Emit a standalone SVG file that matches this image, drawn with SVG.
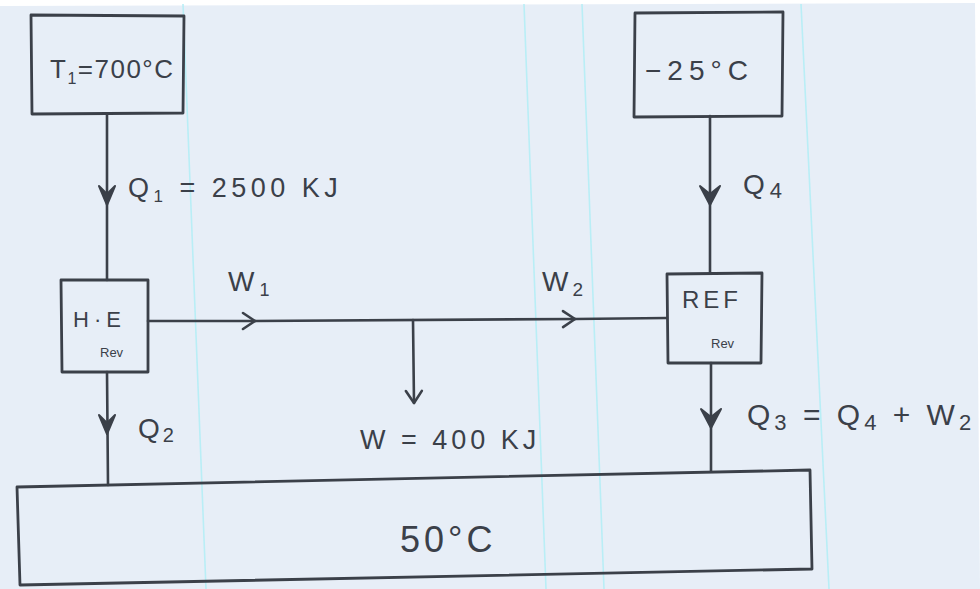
<svg xmlns="http://www.w3.org/2000/svg" width="980" height="589" viewBox="0 0 980 589">
<style>
.ink{fill:none;stroke:#3b4049;stroke-width:2.6;stroke-linecap:round;stroke-linejoin:round}
.box{fill:none;stroke:#3b4049;stroke-width:2.8;stroke-linejoin:round}
.head{fill:#3b4049;stroke:#3b4049;stroke-width:2;stroke-linejoin:round}
.t{font-family:"Liberation Sans","DejaVu Sans",sans-serif;fill:#3b4049}
.rule{stroke:#b9eef6;stroke-width:1.6}
</style>
<defs>
<marker id="chev" viewBox="0 0 20 20" refX="16" refY="10" markerWidth="20" markerHeight="20" markerUnits="userSpaceOnUse" orient="auto">
<path d="M4,2 L16,10 L4,18" fill="none" stroke="#3b4049" stroke-width="2.6" stroke-linecap="round" stroke-linejoin="round"/>
</marker>
</defs>
<rect width="980" height="589" fill="#ffffff"/>
<polygon points="0,6 975,3 980,589 0,589" fill="#e7eef7"/>
<g id="rules">
<line class="rule" x1="183" y1="4" x2="206" y2="589"/>
<line class="rule" x1="524" y1="4" x2="546" y2="589"/>
<line class="rule" x1="582" y1="4" x2="604" y2="589"/>
<line class="rule" x1="801" y1="4" x2="829" y2="589"/>
</g>

<g id="connectors">
<line class="ink" x1="107" y1="114" x2="107" y2="280"/>
<path class="head" d="M99,186 L107,205 L115,186 L107,194 Z"/>
<line class="ink" x1="107" y1="372" x2="108" y2="485"/>
<path class="head" d="M99,415 L107,434 L115,415 L107,423 Z"/>
<line class="ink" x1="710" y1="116" x2="710" y2="273"/>
<path class="head" d="M700,186 L710,205 L720,186 L710,194 Z"/>
<line class="ink" x1="711" y1="363" x2="711" y2="471"/>
<path class="head" d="M701,409 L711,428 L721,409 L711,417 Z"/>
<line class="ink" x1="148" y1="321" x2="255" y2="321" marker-end="url(#chev)"/>
<line class="ink" x1="255" y1="321" x2="575" y2="319" marker-end="url(#chev)"/>
<line class="ink" x1="575" y1="319" x2="667" y2="318"/>
<line class="ink" x1="413" y1="320" x2="414" y2="403" marker-end="url(#chev)"/>
</g>

<g id="hot">
<polygon class="box" points="31,15 184,16 183,113 32,114"/>
<text class="t" x="50" y="78" font-size="26" letter-spacing="1.5">T<tspan font-size="16" dy="6">1</tspan><tspan dy="-6">=700°C</tspan></text>
</g>

<g id="cold">
<polygon class="box" points="635,13 783,12 782,116 634,117"/>
<text class="t" x="645" y="80" font-size="28" letter-spacing="6">−25°C</text>
</g>

<g id="he">
<polygon class="box" points="61,280 148,280 148,372 62,372"/>
<text class="t" x="73" y="327" font-size="22" letter-spacing="5">H·E</text>
<text class="t" x="100" y="357" font-size="13">Rev</text>
</g>

<g id="ref">
<polygon class="box" points="667,274 762,273 761,363 668,363"/>
<text class="t" x="682" y="308" font-size="24" letter-spacing="4">REF</text>
<text class="t" x="711" y="348" font-size="13">Rev</text>
</g>

<g id="sink">
<polygon class="box" points="17,487 810,470 812,569 20,585"/>
<text class="t" x="400" y="552" font-size="36" letter-spacing="4">50°C</text>
</g>

<g id="labels">
<text class="t" x="128" y="197" font-size="27" letter-spacing="4.5">Q<tspan font-size="17" dy="5">1</tspan><tspan dy="-5"> = 2500 KJ</tspan></text>
<text class="t" x="743" y="194" font-size="28" letter-spacing="5">Q<tspan font-size="22" dy="4">4</tspan></text>
<text class="t" x="228" y="291" font-size="28" letter-spacing="5">W<tspan font-size="18" dy="5">1</tspan></text>
<text class="t" x="542" y="291" font-size="28" letter-spacing="4">W<tspan font-size="19" dy="5">2</tspan></text>
<text class="t" x="360" y="449" font-size="27" letter-spacing="4">W = 400 KJ</text>
<text class="t" x="138" y="438" font-size="28" letter-spacing="3">Q<tspan font-size="20" dy="4">2</tspan></text>
<text class="t" x="747" y="425" font-size="30" letter-spacing="4">Q<tspan font-size="22" dy="5">3</tspan><tspan dy="-5"> = Q</tspan><tspan font-size="22" dy="5">4</tspan><tspan dy="-5"> + W</tspan><tspan font-size="22" dy="5">2</tspan></text>
</g>
</svg>
